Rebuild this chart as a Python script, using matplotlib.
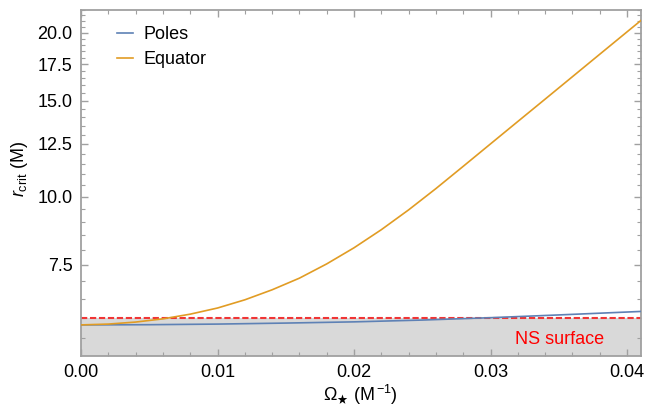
import matplotlib
matplotlib.use('Agg')
import matplotlib.pyplot as plt
from matplotlib.ticker import FixedLocator, MultipleLocator, FormatStrFormatter, NullFormatter

plt.rcParams['font.family'] = ['Liberation Sans', 'DejaVu Sans']
plt.rcParams['mathtext.fontset'] = 'custom'
plt.rcParams['mathtext.rm'] = 'Liberation Sans'
plt.rcParams['mathtext.it'] = 'Liberation Sans:italic'
plt.rcParams['mathtext.fallback'] = 'stixsans'

# critical radius vs stellar angular velocity
omega_poles = [0.0, 0.005, 0.01, 0.015, 0.02, 0.025, 0.03, 0.035, 0.041]
r_poles = [5.82, 5.825, 5.84, 5.865, 5.895, 5.94, 6.0, 6.07, 6.16]

omega_eq = [0.0, 0.002, 0.004, 0.006, 0.008, 0.010, 0.012, 0.014, 0.016,
            0.018, 0.020, 0.022, 0.024, 0.026, 0.028, 0.030, 0.032, 0.034,
            0.036, 0.038, 0.040, 0.041]
r_eq = [5.82, 5.84, 5.89, 5.97, 6.09, 6.25, 6.47, 6.75, 7.09,
        7.53, 8.06, 8.70, 9.46, 10.35, 11.37, 12.50, 13.74, 15.10,
        16.60, 18.25, 20.06, 21.03]

r_surface = 6.0
y_ticks = [7.5, 10.0, 12.5, 15.0, 17.5, 20.0]

BLUE = '#5e81b5'
ORANGE = '#e19c24'
FRAME = '#a0a0a0'

fig = plt.figure(figsize=(6.57, 4.09), dpi=100)
ax = fig.add_axes([0.1233, 0.1303, 0.8519, 0.8453])

ax.set_yscale('log')
ax.set_xlim(0, 0.041)
ax.set_ylim(5.11, 22.0)

ax.axhspan(5.11, r_surface, color='#d9d9d9', lw=0, zorder=0)
ax.axhline(r_surface, color='#f03535', lw=1.5, ls=(0, (3, 1.3)), zorder=2)

ax.plot(omega_poles, r_poles, color=BLUE, lw=1.2, label='Poles', zorder=3)
ax.plot(omega_eq, r_eq, color=ORANGE, lw=1.2, label='Equator', zorder=3)

ax.text(0.0383, 5.48, 'NS surface', color='red', fontsize=13,
        ha='right', va='center')

ax.yaxis.set_major_locator(FixedLocator(y_ticks))
ax.yaxis.set_major_formatter(FormatStrFormatter('%.1f'))
ax.yaxis.set_minor_locator(MultipleLocator(0.5))
ax.yaxis.set_minor_formatter(NullFormatter())
ax.xaxis.set_major_locator(MultipleLocator(0.01))
ax.xaxis.set_major_formatter(FormatStrFormatter('%.2f'))
ax.xaxis.set_minor_locator(MultipleLocator(0.002))

for s in ax.spines.values():
    s.set_color(FRAME)
    s.set_linewidth(1.3)
ax.tick_params(which='both', direction='in', top=True, right=True,
               color=FRAME, labelsize=13, labelcolor='black')
ax.tick_params(which='major', length=5, width=1.0, pad=6)
ax.tick_params(which='minor', length=2.8, width=0.8)

ax.set_xlabel(r'$\Omega_{\bigstar}$ (M$^{\,\mathregular{-1}}$)', fontsize=13, labelpad=1)
ax.set_ylabel(r'$r_{\mathregular{crit}}$ (M)', fontsize=13)
ax.yaxis.set_label_coords(-0.092, 0.54)

ax.legend(loc='upper left', bbox_to_anchor=(0.035, 1.0), frameon=False,
          fontsize=13, handlelength=0.9, handletextpad=0.6, labelspacing=0.45)

fig.savefig('out.png', dpi=100)
